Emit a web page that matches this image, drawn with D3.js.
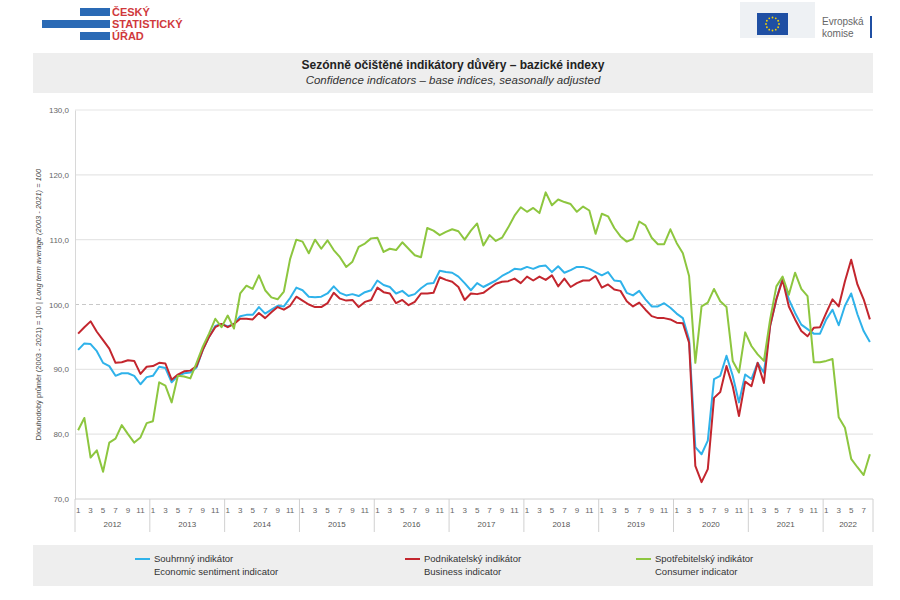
<!DOCTYPE html>
<html>
<head>
<meta charset="utf-8">
<script src="https://cdn.jsdelivr.net/npm/d3@7"></script>
<style>
  body { margin: 0; background: #fff; font-family: "Liberation Sans", Arial, sans-serif; }
  svg text { font-family: "Liberation Sans", Arial, sans-serif; }
</style>
</head>
<body>
<svg id="chart" width="900" height="600"></svg>
<script>
// monthly values, Jan 2012 .. Aug 2022
var startYear = 2012;
var yTicks = [70, 80, 90, 100, 110, 120, 130];

var economic = [
  93.0, 94.0, 93.9, 92.8, 91.0, 90.5, 89.0, 89.4, 89.4, 89.0, 87.7, 88.8,
  89.0, 90.4, 90.2, 88.0, 89.0, 89.4, 89.5, 90.3, 93.0, 95.0, 96.7, 97.0,
  96.6, 97.0, 98.2, 98.4, 98.4, 99.6, 98.6, 99.2, 99.8, 99.7, 101.0, 102.6,
  102.2, 101.2, 101.1, 101.2, 101.7, 102.8, 101.8, 101.4, 101.6, 101.3, 101.9, 102.2,
  103.7, 103.0, 102.7, 101.7, 102.1, 101.3, 101.6, 102.5, 103.2, 103.3, 105.2, 105.0,
  104.9, 104.3, 103.3, 102.2, 103.3, 102.7, 103.2, 103.7, 104.4, 104.9, 105.5, 105.4,
  105.8, 105.5, 105.9, 106.0, 105.0, 105.9, 104.9, 105.3, 105.8, 105.8, 105.5, 105.0,
  104.5, 105.0, 103.7, 103.6, 101.8, 101.4, 102.1, 100.8, 99.7, 99.7, 100.2, 99.5,
  98.6, 97.9, 94.6, 78.0, 76.9, 79.0, 88.5, 89.0, 92.1, 89.0, 84.9, 89.2,
  88.5, 91.0, 89.5, 96.7, 100.8, 104.1, 100.8, 98.7, 96.9, 96.2, 95.5, 95.5,
  97.7, 99.2, 96.8, 99.8, 101.7, 98.5, 95.9, 94.2
];

var business = [
  95.5, 96.5, 97.4, 95.8, 94.5, 93.2, 91.0, 91.1, 91.4, 91.3, 89.3, 90.4,
  90.5, 91.0, 90.9, 88.4, 89.2, 89.7, 89.8, 90.5, 93.0, 95.0, 96.5, 97.0,
  96.5, 97.0, 97.8, 97.8, 97.7, 98.7, 97.9, 98.8, 99.6, 99.2, 99.8, 101.2,
  100.6, 100.0, 99.6, 99.6, 100.2, 101.8, 100.9, 100.6, 100.7, 99.6, 100.4, 100.7,
  102.6, 101.9, 101.7, 100.2, 100.7, 99.9, 100.4, 101.7, 101.7, 101.8, 104.2, 103.8,
  103.5, 102.7, 100.7, 101.7, 101.6, 101.8, 102.5, 103.2, 103.5, 103.6, 104.0, 103.3,
  104.3, 103.7, 104.3, 103.8, 104.5, 102.8, 104.0, 102.7, 103.3, 103.7, 103.7, 104.4,
  102.6, 103.1, 102.3, 102.1, 100.5, 99.7, 100.3, 99.2, 98.2, 97.9, 97.9, 97.7,
  97.2, 97.1, 94.1, 75.1, 72.6, 74.6, 85.6, 86.5, 90.5, 87.4, 82.8, 88.1,
  87.4, 91.0, 87.9, 96.7, 100.8, 103.8, 99.7, 97.7, 95.9, 95.1, 96.4, 96.5,
  98.7, 100.8, 99.7, 103.6, 106.9, 103.1, 100.8, 97.7
];

var consumer = [
  80.6, 82.5, 76.4, 77.5, 74.2, 78.7, 79.3, 81.4, 80.0, 78.7, 79.5, 81.7,
  82.0, 88.0, 87.5, 84.9, 89.0, 88.9, 88.6, 91.0, 93.5, 95.5, 97.8, 96.5,
  98.3, 96.3, 101.7, 102.9, 102.4, 104.5, 102.2, 101.1, 100.8, 102.0, 107.0, 110.0,
  109.7, 107.9, 110.0, 108.6, 109.9, 108.4, 107.3, 105.8, 106.6, 108.9, 109.4, 110.2,
  110.3, 108.1, 108.6, 108.4, 109.6, 108.6, 107.6, 107.3, 111.8, 111.4, 110.7, 111.2,
  111.6, 111.3, 110.0, 111.4, 112.5, 109.1, 110.7, 109.8, 110.3, 111.9, 113.7, 115.0,
  114.3, 114.9, 114.1, 117.3, 115.3, 116.2, 115.8, 115.5, 114.3, 115.1, 114.5, 110.9,
  114.0, 113.6, 111.8, 110.5, 109.7, 110.1, 112.8, 112.2, 110.3, 109.3, 109.3, 111.6,
  109.5, 107.9, 104.4, 91.0, 99.7, 100.3, 102.4, 100.5, 99.6, 91.3, 89.5, 95.7,
  93.6, 92.3, 91.3, 97.7, 102.8, 104.3, 101.5, 104.9, 102.4, 101.3, 91.1, 91.1,
  91.3, 91.6, 82.6, 81.0, 76.2, 74.9, 73.7, 76.9
];

var seriesNames = [
  ["Souhrnný indikátor", "Economic sentiment indicator"],
  ["Podnikatelský indikátor", "Business indicator"],
  ["Spotřebitelský indikátor", "Consumer indicator"]
];
var seriesColors = ["#2fb2ea", "#c3262e", "#8dc63f"];

var svg = d3.select("#chart");
var plotLeft = 75, plotRight = 873, plotTop = 110, plotBottom = 499;
var n = economic.length;

// --- header: logos
var logo = svg.append("g");
logo.append("rect").attr("x", 80).attr("y", 8).attr("width", 30).attr("height", 8).attr("fill", "#2a6ab5");
logo.append("rect").attr("x", 42).attr("y", 20).attr("width", 68).attr("height", 8).attr("fill", "#2a6ab5");
logo.append("rect").attr("x", 80).attr("y", 32).attr("width", 30).attr("height", 8).attr("fill", "#2a6ab5");
["ČESKÝ", "STATISTICKÝ", "ÚŘAD"].forEach(function (t, i) {
  logo.append("text").attr("x", 112).attr("y", 16 + i * 12).attr("font-size", 11)
    .attr("font-weight", "bold").attr("fill", "#d0393c").text(t);
});
var eu = svg.append("g");
eu.append("rect").attr("x", 740).attr("y", 2).attr("width", 75).attr("height", 36).attr("fill", "#eef1f4");
eu.append("rect").attr("x", 757).attr("y", 13).attr("width", 31).attr("height", 22).attr("fill", "#1f4fa3");
d3.range(12).forEach(function (i) {
  var a = i / 12 * 2 * Math.PI;
  eu.append("circle").attr("cx", 772.5 + 6.5 * Math.cos(a)).attr("cy", 24 + 6.5 * Math.sin(a))
    .attr("r", 0.9).attr("fill", "#f5d200");
});
eu.append("text").attr("x", 822).attr("y", 25).attr("font-size", 10).attr("fill", "#666").text("Evropská");
eu.append("text").attr("x", 822).attr("y", 37).attr("font-size", 10).attr("fill", "#666").text("komise");
eu.append("rect").attr("x", 870).attr("y", 16).attr("width", 2).attr("height", 22).attr("fill", "#1f4fa3");

// --- title box
svg.append("rect").attr("x", 33).attr("y", 53).attr("width", 840).attr("height", 40).attr("fill", "#eeeeee");
svg.append("text").attr("x", 453).attr("y", 69).attr("text-anchor", "middle").attr("font-size", 12)
  .attr("font-weight", "bold").attr("fill", "#222").text("Sezónně očištěné indikátory důvěry – bazické indexy");
svg.append("text").attr("x", 453).attr("y", 84).attr("text-anchor", "middle").attr("font-size", 11.5)
  .attr("font-style", "italic").attr("fill", "#333").text("Confidence indicators – base indices, seasonally adjusted");

// --- scales
var x = d3.scaleLinear().domain([-0.5, n - 0.5]).range([plotLeft, plotRight]);
var y = d3.scaleLinear().domain([70, 130]).range([plotBottom, plotTop]);

// gridlines
svg.append("g").selectAll("line").data(yTicks.filter(function (d) { return d > 70; })).enter().append("line")
  .attr("x1", plotLeft).attr("x2", plotRight).attr("y1", y).attr("y2", y)
  .attr("stroke", function (d) { return d === 100 ? "#c8c8c8" : "#e6e6e6"; })
  .attr("stroke-width", 1.2)
  .attr("stroke-dasharray", function (d) { return d === 100 ? "4,3" : null; });

// y axis
var yAxis = svg.append("g").attr("transform", "translate(" + plotLeft + ",0)")
  .call(d3.axisLeft(y).tickValues(yTicks).tickSize(0).tickPadding(6)
    .tickFormat(function (d) { return d3.format(".1f")(d).replace(".", ","); }));
yAxis.select(".domain").attr("stroke", "#d8d8d8");
yAxis.selectAll("text").attr("font-size", 8).attr("fill", "#666");

var yt = svg.append("text").attr("transform", "translate(41," + ((plotTop + plotBottom) / 2) + ") rotate(-90)")
  .attr("text-anchor", "middle").attr("font-size", 7.5).attr("fill", "#444");
yt.append("tspan").text("Dlouhodobý průměr (2003 - 2021) = 100 | ");
yt.append("tspan").attr("font-style", "italic").text("Long term average (2003 - 2021) = 100");

// x axis
svg.append("line").attr("x1", plotLeft).attr("x2", plotRight).attr("y1", plotBottom).attr("y2", plotBottom).attr("stroke", "#d0d0d0");
var months = d3.range(n);
svg.append("g").selectAll("text").data(months.filter(function (i) { return i % 2 === 0; })).enter().append("text")
  .attr("x", function (i) { return x(i); }).attr("y", 513).attr("text-anchor", "middle")
  .attr("font-size", 8).attr("fill", "#666").text(function (i) { return (i % 12) + 1; });
var years = d3.range(startYear, startYear + Math.ceil(n / 12));
svg.append("g").selectAll("line").data(years.concat([startYear + years.length])).enter().append("line")
  .attr("x1", function (yr) { return x(Math.min((yr - startYear) * 12, n) - 0.5); })
  .attr("x2", function (yr) { return x(Math.min((yr - startYear) * 12, n) - 0.5); })
  .attr("y1", plotBottom).attr("y2", 532).attr("stroke", "#d0d0d0");
svg.append("g").selectAll("text").data(years).enter().append("text")
  .attr("x", function (yr) {
    var a = (yr - startYear) * 12, b = Math.min(a + 12, n);
    return x((a + b - 1) / 2);
  })
  .attr("y", 527).attr("text-anchor", "middle").attr("font-size", 8).attr("fill", "#555").text(function (d) { return d; });

// lines
var line = d3.line().x(function (d, i) { return x(i); }).y(function (d) { return y(d); });
[economic, business, consumer].forEach(function (s, k) {
  svg.append("path").datum(s).attr("d", line).attr("fill", "none")
    .attr("stroke", seriesColors[k]).attr("stroke-width", 2).attr("stroke-linejoin", "round");
});

// legend
svg.append("rect").attr("x", 33).attr("y", 545).attr("width", 840).attr("height", 41).attr("fill", "#eeeeee");
var legX = [135, 405, 636];
seriesNames.forEach(function (nm, k) {
  var g = svg.append("g").attr("transform", "translate(" + legX[k] + ",0)");
  g.append("line").attr("x1", 0).attr("x2", 15).attr("y1", 559).attr("y2", 559)
    .attr("stroke", seriesColors[k]).attr("stroke-width", 2);
  g.append("text").attr("x", 19).attr("y", 562).attr("font-size", 9.5).attr("fill", "#333").text(nm[0]);
  g.append("text").attr("x", 19).attr("y", 575).attr("font-size", 9.5).attr("fill", "#333").text(nm[1]);
});
</script>
</body>
</html>
